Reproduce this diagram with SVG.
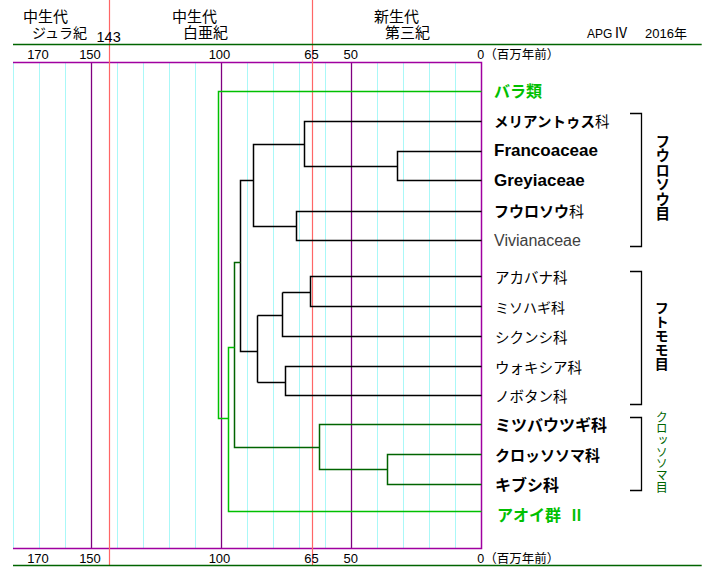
<svg xmlns="http://www.w3.org/2000/svg" width="720" height="584" viewBox="0 0 720 584">
<style>
.bg{fill:#ffffff}
.grid{stroke:#aaf8f8;stroke-width:1;fill:none}
.maj{stroke:#800080;stroke-width:1.3;fill:none}
.frame{stroke:#a000a0;stroke-width:1.5;fill:none}
.red{stroke:#ff6666;stroke-width:1.2;fill:none}
.hdr{stroke:#006400;stroke-width:1.5;fill:none}
.tb{stroke:#000;stroke-width:1.5;fill:none}
.tdg{stroke:#006400;stroke-width:1.5;fill:none}
.tg{stroke:#00c000;stroke-width:1.5;fill:none}
.br{stroke:#000;stroke-width:1.3;fill:none}
.jp{font-family:"Noto Sans CJK JP","Liberation Sans",sans-serif;fill:#000}
.hj{font-family:"Liberation Sans","Noto Sans CJK JP",sans-serif;fill:#000}
.num{font-family:"Liberation Sans","Noto Sans CJK JP",sans-serif;fill:#000;font-size:13px}
.lat{font-family:"Liberation Sans",sans-serif;fill:#000}
.vert{writing-mode:vertical-rl}
.b{font-weight:bold}
.n{font-weight:normal}
</style>
<rect class="bg" x="0" y="0" width="720" height="584"/>
<g id="grid">
<path class="grid" d="M13.5 62.5V548.5M39.5 62.5V548.5M65.5 62.5V548.5M117.5 62.5V548.5M143.5 62.5V548.5M169.5 62.5V548.5M195.5 62.5V548.5M247.5 62.5V548.5M273.5 62.5V548.5M299.5 62.5V548.5M325.5 62.5V548.5M377.5 62.5V548.5M403.5 62.5V548.5M429.5 62.5V548.5M455.5 62.5V548.5"/>
<path class="maj" d="M91.5 62.5V548.5M221.5 62.5V548.5M351.5 62.5V548.5"/>
<path class="frame" d="M13 62.5H481.5V548.5H13"/>
<path class="red" d="M109.5 0V565M312.5 0V565"/>
<path class="hdr" d="M13 44.5H701.7M13 565.5H701.7"/>
</g>
<g id="header">
<text class="hj" font-size="15"><tspan x="23" y="22">中生代</tspan><tspan x="32" y="37.5" font-size="14">ジュラ紀</tspan></text>
<text class="num" x="96.5" y="41.5" style="font-size:14.5px">143</text>
<text class="hj" font-size="15"><tspan x="172" y="22">中生代</tspan><tspan x="183" y="37.5">白亜紀</tspan></text>
<text class="hj" font-size="15"><tspan x="374" y="22">新生代</tspan><tspan x="385" y="37.5">第三紀</tspan></text>
<text class="num" x="587" y="37.5" style="font-size:12px">APG</text>
<text class="jp" x="614" y="37.5" font-size="14">Ⅳ</text>
<text class="num" x="645" y="37.5">2016年</text>
</g>
<g id="axis-top" class="num" text-anchor="middle">
<text x="38" y="59">170</text>
<text x="90" y="59">150</text>
<text x="219.5" y="59">100</text>
<text x="311.5" y="59">65</text>
<text x="350.7" y="59">50</text>
<text x="477.3" y="59" text-anchor="start" style="font-size:12.5px">0（百万年前）</text>
</g>
<g id="axis-bottom" class="num" text-anchor="middle">
<text x="38" y="563">170</text>
<text x="90" y="563">150</text>
<text x="219.5" y="563">100</text>
<text x="311.5" y="563">65</text>
<text x="350.7" y="563">50</text>
<text x="477.3" y="563" text-anchor="start" style="font-size:12.5px">0（百万年前）</text>
</g>
<g id="connectors">
<path class="tb" d="M481.5 121.5H304.5V166.5H397.5"/>
<path class="tb" d="M481.5 151.5H397.5V180.5H481.5"/>
<path class="tb" d="M304.5 144.5H253.5V226.5H296.5"/>
<path class="tb" d="M481.5 211.5H296.5V240.5H481.5"/>
<path class="tb" d="M253.5 180.5H240.5V351.5H257.5"/>
<path class="tb" d="M257.5 315.5V382.5"/>
<path class="tb" d="M257.5 315.5H282.5"/>
<path class="tb" d="M282.5 292.5V336.5H481.5"/>
<path class="tb" d="M282.5 292.5H310.5"/>
<path class="tb" d="M481.5 276.5H310.5V306.5H481.5"/>
<path class="tb" d="M257.5 382.5H285.5"/>
<path class="tb" d="M481.5 366.5H285.5V395.5H481.5"/>
<path class="tdg" d="M240.5 262.5H234.5V447.5H319.5"/>
<path class="tdg" d="M481.5 424.5H319.5V469.5H387.5"/>
<path class="tdg" d="M481.5 454.5H387.5V484.5H481.5"/>
<path class="tg" d="M481.5 91.5H218.5V418.5H228.5"/>
<path class="tg" d="M234.5 347.5H228.5V511.5H481.5"/>
</g>
<g id="n-rosids"><text class="jp b" x="494" y="97" font-size="16" style="fill:#00c000">バラ類</text></g>
<g id="n-melianthaceae"><text class="jp b" x="494" y="126.5" font-size="14.5">メリアントゥス<tspan class="n">科</tspan></text></g>
<g id="n-francoaceae"><text class="lat b" x="494" y="156" font-size="17">Francoaceae</text></g>
<g id="n-greyiaceae"><text class="lat b" x="494" y="185.5" font-size="17">Greyiaceae</text></g>
<g id="n-geraniaceae"><text class="jp b" x="494" y="216.5" font-size="15">フウロソウ<tspan class="n">科</tspan></text></g>
<g id="n-vivianaceae"><text class="lat" x="494" y="245.5" font-size="16" style="fill:#404040">Vivianaceae</text></g>
<g id="n-onagraceae"><text class="jp" x="495" y="282.5" font-size="14.5">アカバナ科</text></g>
<g id="n-lythraceae"><text class="jp" x="495" y="312.5" font-size="14">ミソハギ科</text></g>
<g id="n-combretaceae"><text class="jp" x="495" y="342.5" font-size="14.5">シクンシ科</text></g>
<g id="n-vochysiaceae"><text class="jp" x="495" y="372.5" font-size="14.5">ウォキシア科</text></g>
<g id="n-melastomataceae"><text class="jp" x="495" y="401.5" font-size="14.5">ノボタン科</text></g>
<g id="n-staphyleaceae"><text class="jp b" x="495" y="431" font-size="16">ミツバウツギ科</text></g>
<g id="n-crossosomataceae"><text class="jp b" x="495" y="461" font-size="15">クロッソソマ科</text></g>
<g id="n-stachyuraceae"><text class="jp b" x="495" y="490.5" font-size="16">キブシ科</text></g>
<g id="n-malvids"><text class="jp b" x="497" y="521" font-size="16" style="fill:#00c000">アオイ群<tspan x="569" font-size="15">Ⅱ</tspan></text></g>
<g id="o-geraniales">
<path class="br" d="M630 113.5H641.5V246.5H630"/>
<text class="jp b vert" x="662.7" y="134" font-size="14.5">フウロソウ目</text>
</g>
<g id="o-myrtales">
<path class="br" d="M630 271.5H641.5V404.5H630"/>
<text class="jp b vert" x="661.7" y="301" font-size="14">フトモモ目</text>
</g>
<g id="o-crossosomatales">
<path class="br" d="M630 417.5H641.5V490.5H630"/>
<text class="jp vert" x="661.7" y="411" font-size="12" style="fill:#006400;letter-spacing:-0.3px">クロッソソマ目</text>
</g>
</svg>
